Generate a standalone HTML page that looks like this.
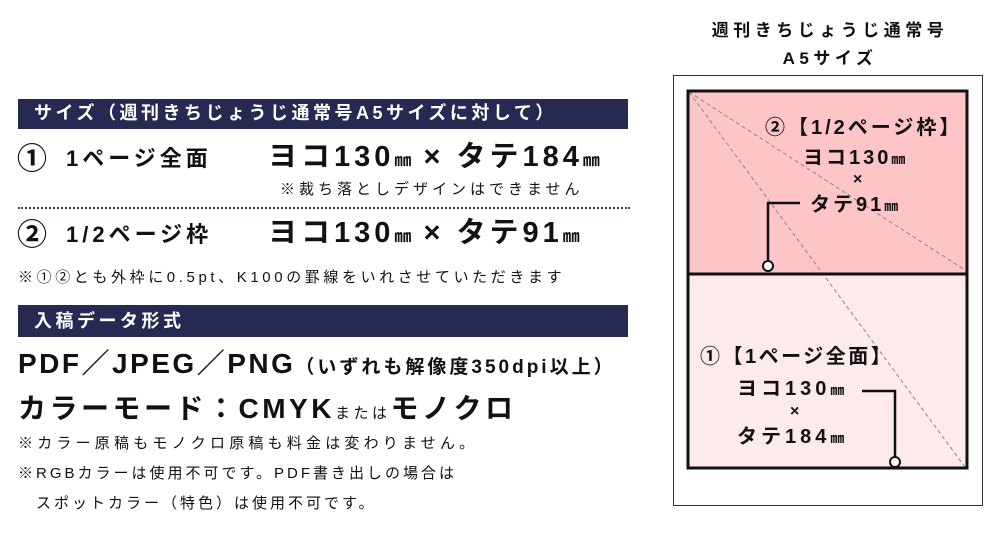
<!DOCTYPE html>
<html><head><meta charset="utf-8"><style>
body{margin:0;width:1000px;height:533px;background:#fff;position:relative;overflow:hidden;font-family:"Liberation Sans","Noto Sans CJK JP",sans-serif;color:#111}
.a{position:absolute;white-space:nowrap;line-height:1}
.b{font-weight:bold}
.bar{position:absolute;left:18px;width:610px;background:#262a52;color:#fff;font-weight:bold;font-size:18px;line-height:1;letter-spacing:3.5px}
</style></head><body>
<div class="bar" style="top:99px;height:30px"><span style="position:absolute;left:16px;top:5px">サイズ（週刊きちじょうじ通常号A5サイズに対して）</span></div>
<div class="a b" style="left:17px;top:145px;font-size:30px">①</div>
<div class="a b" style="left:66px;top:148px;font-size:22px;letter-spacing:4px">1ページ全面</div>
<div class="a b" style="left:268px;top:143px;font-size:29px;letter-spacing:4px">ヨコ130<span style="font-size:17px;letter-spacing:0">㎜</span> × タテ184<span style="font-size:17px;letter-spacing:0">㎜</span></div>
<div class="a" style="left:280px;top:182px;font-size:15px;letter-spacing:4px">※裁ち落としデザインはできません</div>
<div style="position:absolute;left:18px;top:207px;width:612px;border-top:2.5px dotted #3a3f66"></div>
<div class="a b" style="left:17px;top:221px;font-size:30px">②</div>
<div class="a b" style="left:66px;top:224px;font-size:22px;letter-spacing:4px">1/2ページ枠</div>
<div class="a b" style="left:268px;top:219px;font-size:29px;letter-spacing:4px">ヨコ130<span style="font-size:17px;letter-spacing:0">㎜</span> × タテ91<span style="font-size:17px;letter-spacing:0">㎜</span></div>
<div class="a" style="left:18px;top:270px;font-size:15px;letter-spacing:3.6px">※①②とも外枠に0.5pt、K100の罫線をいれさせていただきます</div>
<div class="bar" style="top:305px;height:32px"><span style="position:absolute;left:16px;top:7px">入稿データ形式</span></div>
<div class="a b" style="left:18px;top:350px;font-size:28px;letter-spacing:2.5px">PDF／JPEG／PNG<span style="font-size:19px;letter-spacing:3px">（いずれも解像度350dpi以上）</span></div>
<div class="a b" style="left:18px;top:395px;font-size:28px;letter-spacing:3.5px">カラーモード：CMYK<span style="font-size:15px;font-weight:normal">または</span>モノクロ</div>
<div class="a" style="left:18px;top:436px;font-size:15px;letter-spacing:4.2px">※カラー原稿もモノクロ原稿も料金は変わりません。</div>
<div class="a" style="left:18px;top:466px;font-size:15px;letter-spacing:3px">※RGBカラーは使用不可です。PDF書き出しの場合は</div>
<div class="a" style="left:36px;top:496px;font-size:15px;letter-spacing:3px">スポットカラー（特色）は使用不可です。</div>

<div class="a b" style="left:690px;top:17px;width:280px;text-align:center;font-size:17px;line-height:28px;letter-spacing:4.5px">週刊きちじょうじ通常号<br>A5サイズ</div>
<svg style="position:absolute;left:0;top:0" width="1000" height="533">
<rect x="673.5" y="75.5" width="309" height="430" fill="#fff" stroke="#333" stroke-width="1"/>
<rect x="688" y="91" width="279" height="183" fill="#fdc5c6"/>
<rect x="688" y="274" width="279" height="194" fill="#fdeaea"/>
<line x1="689" y1="92" x2="965" y2="270" stroke="#888" stroke-dasharray="4,3" stroke-width="1"/>
<line x1="689" y1="92" x2="965" y2="467" stroke="#888" stroke-dasharray="4,3" stroke-width="1"/>
<rect x="688" y="91" width="279" height="377" fill="none" stroke="#111" stroke-width="3"/>
<line x1="688" y1="274" x2="967" y2="274" stroke="#111" stroke-width="3"/>
<polyline points="768,266 768,203 800,203" fill="none" stroke="#111" stroke-width="2.5"/>
<circle cx="768" cy="266" r="5" fill="#fff" stroke="#111" stroke-width="2"/>
<polyline points="862,391 895,391 895,457" fill="none" stroke="#111" stroke-width="2.5"/>
<circle cx="895" cy="462" r="5" fill="#fff" stroke="#111" stroke-width="2"/>
</svg>
<div class="a b" style="left:765px;top:118px;font-size:20px;letter-spacing:3px">②【1/2ページ枠】</div>
<div class="a b" style="left:803px;top:148px;font-size:20px;letter-spacing:3px">ヨコ130<span style="font-size:14px;letter-spacing:0">㎜</span></div>
<div class="a b" style="left:853px;top:172px;font-size:16px">×</div>
<div class="a b" style="left:810px;top:195px;font-size:20px;letter-spacing:3px">タテ91<span style="font-size:14px;letter-spacing:0">㎜</span></div>
<div class="a b" style="left:700px;top:347px;font-size:20px;letter-spacing:2.5px">①【1ページ全面】</div>
<div class="a b" style="left:737px;top:379px;font-size:20px;letter-spacing:4px">ヨコ130<span style="font-size:14px;letter-spacing:0">㎜</span></div>
<div class="a b" style="left:790px;top:404px;font-size:16px">×</div>
<div class="a b" style="left:737px;top:427px;font-size:20px;letter-spacing:4px">タテ184<span style="font-size:14px;letter-spacing:0">㎜</span></div>
</body></html>
